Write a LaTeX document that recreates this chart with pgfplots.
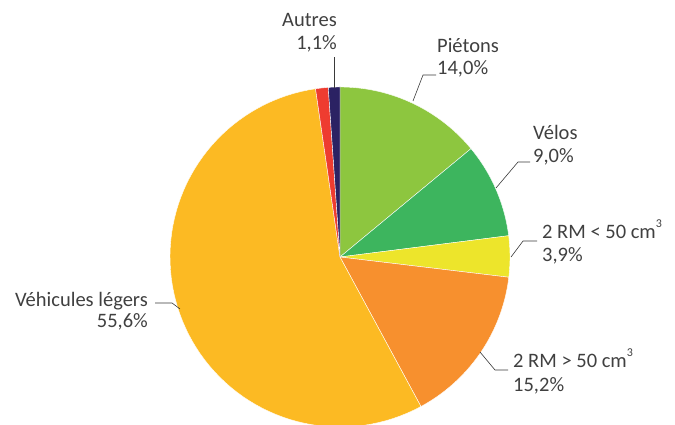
\documentclass[border=0pt]{standalone}
\usepackage{pgfplots}
\pgfplotsset{compat=1.18}
\usepackage{fontspec}
\setmainfont{Carlito}
\definecolor{cPiet}{HTML}{8DC63F}
\definecolor{cVelo}{HTML}{3DB55E}
\definecolor{cRMa}{HTML}{EDE52B}
\definecolor{cRMb}{HTML}{F7902E}
\definecolor{cVL}{HTML}{FCBA23}
\definecolor{cRed}{HTML}{EE3C30}
\definecolor{cAut}{HTML}{2B2263}
\definecolor{txt}{HTML}{404040}

% slice from cumulative share #1 to #2 (percent), clockwise from the top
\newcommand{\pieslice}[3]{%
  \addplot[fill=#3, draw=white, line width=0.4pt, variable=\t,
           domain={90-3.6*#2}:{90-3.6*#1}, samples=80]
    ({340+170*cos(\t)},{168+170*sin(\t)}) -- (axis cs:340,168) -- cycle;
}
\newcommand{\cube}{\raisebox{0.55em}{\fontsize{12}{12}\selectfont 3}}

\begin{document}
\begin{tikzpicture}[font=\fontsize{20.5}{23}\selectfont, text=txt]
\begin{axis}[
    width=675pt, height=425pt, scale only axis,
    xmin=0, xmax=675, ymin=0, ymax=425,
    hide axis, clip=true,
  ]
% shares (percent): 14.0, 9.0, 3.9, 15.2, 55.6, 1.2, 1.1
\pieslice{0}{14.0}{cPiet}
\pieslice{14.0}{23.0}{cVelo}
\pieslice{23.0}{26.9}{cRMa}
\pieslice{26.9}{42.1}{cRMb}
\pieslice{42.1}{97.7}{cVL}
\pieslice{97.7}{98.9}{cRed}
\pieslice{98.9}{100}{cAut}

\begin{scope}[draw=txt!90!black, line width=0.6pt]
\draw (axis cs:334,337) -- (axis cs:334,368);
\draw (axis cs:413,324) -- (axis cs:423,350) -- (axis cs:436,350);
\draw (axis cs:496,237) -- (axis cs:518,263) -- (axis cs:530,263);
\draw (axis cs:511,168) -- (axis cs:523,184) -- (axis cs:537,184);
\draw (axis cs:480,73) -- (axis cs:495,55) -- (axis cs:508,55);
\draw (axis cs:180,116) -- (axis cs:172,122) -- (axis cs:155,122);
\end{scope}

\node[anchor=base east, inner sep=0pt] at (axis cs:337,398) {Autres};
\node[anchor=base east, inner sep=0pt] at (axis cs:337,375) {1,1\%};
\node[anchor=base west, inner sep=0pt] at (axis cs:437,372) {Piétons};
\node[anchor=base west, inner sep=0pt] at (axis cs:437,350) {14,0\%};
\node[anchor=base west, inner sep=0pt] at (axis cs:533,285) {Vélos};
\node[anchor=base west, inner sep=0pt] at (axis cs:533,262) {9,0\%};
\node[anchor=base west, inner sep=0pt] at (axis cs:542,186) {2 RM < 50 cm\cube};
\node[anchor=base west, inner sep=0pt] at (axis cs:542,163) {3,9\%};
\node[anchor=base west, inner sep=0pt] at (axis cs:513,57) {2 RM > 50 cm\cube};
\node[anchor=base west, inner sep=0pt] at (axis cs:513,33) {15,2\%};
\node[anchor=base east, inner sep=0pt] at (axis cs:148,118) {Véhicules légers};
\node[anchor=base east, inner sep=0pt] at (axis cs:148,97) {55,6\%};
\end{axis}
\pgfresetboundingbox
\path[use as bounding box] (current axis.south west) rectangle (current axis.north east);
\end{tikzpicture}
\end{document}
